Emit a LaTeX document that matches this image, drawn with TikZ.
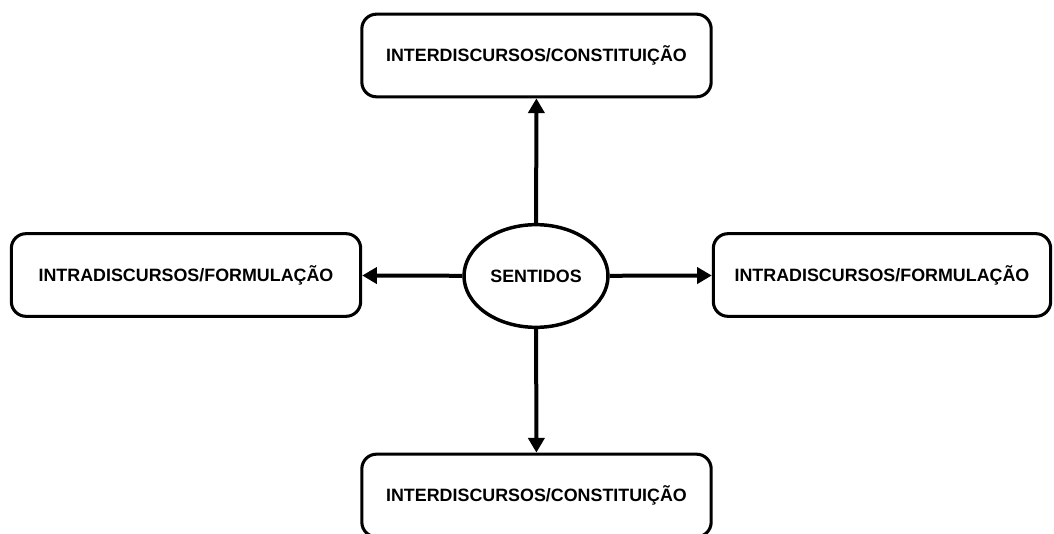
\documentclass[tikz,border=0pt]{standalone}
\usepackage{fontspec}
\setmainfont{Liberation Sans}
\usetikzlibrary{arrows.meta,shapes.geometric}
\begin{document}
\begin{tikzpicture}[x=0.75pt,y=0.75pt,
		caixa/.style={draw,line width=2.3pt,rounded corners=11pt,minimum width=#1,minimum height=62pt,
			inner sep=0pt,font=\fontsize{13.4}{16}\selectfont\bfseries},
		centro/.style={draw,ellipse,line width=2.6pt,minimum width=108pt,minimum height=77pt,
			inner sep=0pt,font=\fontsize{13.4}{16}\selectfont\bfseries},
		seta/.style={line width=3pt,-{Triangle[length=11pt,width=12pt]}}]
			\useasboundingbox (0,0) rectangle (1054,533);

			\node [centro] (sentidos) at (536,257) {SENTIDOS};

			\node [caixa=262pt] (inter1) at (536.5,477.5) {INTERDISCURSOS/CONSTITUI\c{C}\~AO};
			\node [caixa=262pt] (inter2) at (536.5,37.5) {INTERDISCURSOS/CONSTITUI\c{C}\~AO};
			\node [caixa=262pt] (intra1) at (186,258) {INTRADISCURSOS/FORMULA\c{C}\~AO};
			\node [caixa=253pt] (intra2) at (882,258) {INTRADISCURSOS/FORMULA\c{C}\~AO};

			\draw [seta] (sentidos) -- (inter1);
			\draw [seta] (sentidos) -- (inter2);
			\draw [seta] (sentidos) -- (intra1);
			\draw [seta] (sentidos) -- (intra2);
		\end{tikzpicture}
\end{document}
